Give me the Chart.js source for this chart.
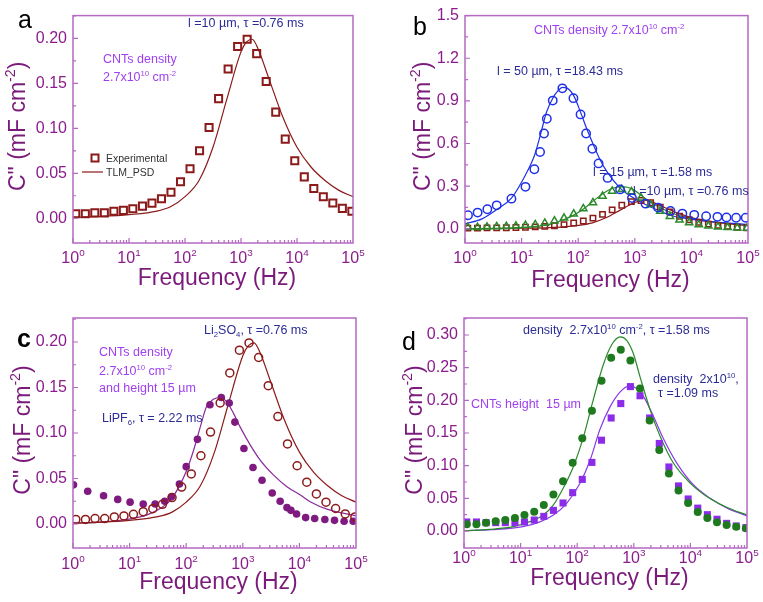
<!DOCTYPE html>
<html>
<head>
<meta charset="utf-8">
<script src="https://cdn.jsdelivr.net/npm/chart.js@4.4.0/dist/chart.umd.min.js"></script>
<style>
body { margin: 0; background: #fff; }
#fig { position: relative; width: 763px; height: 602px; }
#fig canvas { position: absolute; }
</style>
</head>
<body>
<div id="fig">
<canvas id="chartA" width="381" height="301" style="left:0;top:0"></canvas>
<canvas id="chartB" width="382" height="301" style="left:381px;top:0"></canvas>
<canvas id="chartC" width="381" height="301" style="left:0;top:301px"></canvas>
<canvas id="chartD" width="382" height="301" style="left:381px;top:301px"></canvas>
</div>
<script>
// Frequências (Hz) das medidas principais
const freqGrid = [1.12, 1.66, 2.45, 3.63, 5.37, 7.94, 11.7, 17.4, 25.7, 38.0, 56.2, 83.2, 123, 182, 269,
                  398, 589, 871, 1288, 1905, 2818, 4169, 6166, 9120, 13490, 19950, 29510, 43650, 64570, 95500];

// l = 10 um, Li2SO4 (painéis a, b, c)
const expt10um = [0.005, 0.005, 0.006, 0.006, 0.0077, 0.0088, 0.0106, 0.0135, 0.0168, 0.0216, 0.029, 0.0406,
                  0.055, 0.075, 0.101, 0.133, 0.166, 0.191, 0.199, 0.183, 0.152, 0.118, 0.088, 0.064, 0.046,
                  0.033, 0.024, 0.017, 0.011, 0.0077];
const fitFreq10um = [1, 3.16, 10, 31.6, 56.2, 100, 178, 316, 562, 1000, 1259, 1585, 1995, 3162, 5623,
                     10000, 17780, 31620, 56230, 100000];
const fit10um = [0.001, 0.002, 0.004, 0.008, 0.013, 0.024, 0.042, 0.079, 0.133, 0.185, 0.196, 0.199, 0.189,
                 0.155, 0.112, 0.079, 0.057, 0.042, 0.031, 0.024];

// l = 50 um (painel b)
const freq50um = [1.13, 1.67, 2.48, 3.63, 6.61, 11.7, 16.8, 21.2, 24.9, 27.9, 35.5, 52.5, 82.4, 110, 138,
                  178, 229, 331, 550, 891, 1549, 2570, 4266, 6918, 11220, 18200, 28840, 41690, 61660, 91200];
const expt50um = [0.095, 0.114, 0.137, 0.165, 0.212, 0.295, 0.419, 0.540, 0.670, 0.774, 0.902, 0.988, 0.919,
                  0.805, 0.670, 0.563, 0.460, 0.358, 0.277, 0.216, 0.177, 0.149, 0.126, 0.107, 0.098, 0.088,
                  0.084, 0.080, 0.078, 0.078];
const fitFreq50um = [1, 2.0, 3.63, 6.61, 11.7, 17.0, 21.4, 27.5, 36.3, 43.7, 52.5, 63.1, 83.2, 107, 141,
                     186, 245, 324, 550, 955, 1622, 2818, 4898, 10960, 24550, 100000];
const fit50um = [0.035, 0.07, 0.135, 0.216, 0.379, 0.519, 0.658, 0.82, 0.926, 0.97, 0.995, 0.99, 0.937,
                 0.833, 0.705, 0.59, 0.484, 0.40, 0.286, 0.216, 0.167, 0.123, 0.088, 0.065, 0.049, 0.030];

// l = 15 um, densidade 2.7e10 (painéis b, d)
const expt15um = [0.0102, 0.0102, 0.0128, 0.0148, 0.0168, 0.0199, 0.0245, 0.0296, 0.0398, 0.056, 0.076,
                  0.1046, 0.142, 0.184, 0.230, 0.265, 0.2776, 0.261, 0.218, 0.169, 0.124, 0.088, 0.062,
                  0.043, 0.029, 0.020, 0.0133, 0.0092, 0.0066, 0.0041];
const fitFreq15um = [1, 2.82, 7.41, 14.5, 25.1, 38.0, 56.2, 85.1, 129, 191, 288, 407, 575, 741, 977, 1288,
                     1950, 2951, 5012, 10000, 19500, 44670, 100000];
const fit15um = [0.0005, 0.0025, 0.0066, 0.0143, 0.0245, 0.040, 0.065, 0.098, 0.144, 0.20, 0.254, 0.285,
                 0.297, 0.292, 0.272, 0.236, 0.185, 0.144, 0.104, 0.073, 0.053, 0.036, 0.0245];

// LiPF6 (painel c)
const freqLiPF6 = [1.02, 1.82, 3.47, 6.17, 10.2, 17.4, 28.2, 41.7, 55.0, 75.9, 100, 158, 263, 417, 575, 724,
                   1047, 1514, 2188, 3311, 4571, 6026, 7079, 8913, 12880, 18620, 28180, 41690, 61660, 89130];
const exptLiPF6 = [0.043, 0.036, 0.031, 0.027, 0.024, 0.022, 0.022, 0.025, 0.030, 0.044, 0.063, 0.093, 0.131,
                   0.139, 0.133, 0.112, 0.083, 0.062, 0.048, 0.034, 0.025, 0.018, 0.015, 0.011, 0.007, 0.006,
                   0.005, 0.004, 0.003, 0.003];
const fitFreqLiPF6 = [1, 2.29, 8.91, 20.4, 34.7, 52.5, 77.6, 102, 135, 178, 229, 302, 398, 525, 692, 891,
                      1349, 2042, 3467, 6026, 10230, 15490, 31620, 100000];
const fitLiPF6 = [0.001, 0.0015, 0.005, 0.01, 0.017, 0.026, 0.043, 0.059, 0.081, 0.107, 0.129, 0.137, 0.139,
                  0.134, 0.121, 0.107, 0.087, 0.070, 0.054, 0.041, 0.032, 0.0245, 0.016, 0.009];

// densidade 2e10 (painel d)
const expt2e10 = [0.0138, 0.0138, 0.0128, 0.0128, 0.0128, 0.0128, 0.0138, 0.0168, 0.0224, 0.0316, 0.0429,
                  0.0587, 0.079, 0.105, 0.139, 0.173, 0.195, 0.221, 0.207, 0.173, 0.134, 0.098, 0.069, 0.049,
                  0.035, 0.025, 0.018, 0.0117, 0.0077, 0.0051];
const fitFreq2e10 = [1, 3.16, 11.0, 21.9, 38.0, 64.6, 112, 170, 251, 380, 575, 851, 1122, 1479, 2239, 3311,
                     5754, 11480, 22390, 44670, 100000];
const fit2e10 = [0.0005, 0.002, 0.0066, 0.014, 0.0245, 0.042, 0.073, 0.109, 0.155, 0.19, 0.213, 0.222, 0.218,
                 0.206, 0.175, 0.142, 0.104, 0.070, 0.050, 0.035, 0.023];

// Eixos
const xTicks = [1, 10, 100, 1000, 10000, 100000];
const xTickLabels = ['10^{0}', '10^{1}', '10^{2}', '10^{3}', '10^{4}', '10^{5}'];
const yTicksSmall = [0, 0.05, 0.10, 0.15, 0.20];
const yLabelsSmall = ['0.00', '0.05', '0.10', '0.15', '0.20'];
const yTicksB = [0, 0.3, 0.6, 0.9, 1.2, 1.5];
const yLabelsB = ['0.0', '0.3', '0.6', '0.9', '1.2', '1.5'];
const yTicksD = [0, 0.05, 0.10, 0.15, 0.20, 0.25, 0.30];
const yLabelsD = ['0.00', '0.05', '0.10', '0.15', '0.20', '0.25', '0.30'];

const FONT = '"Liberation Sans", Arial, sans-serif';
const AXIS = '#b46ac2';
const TICK_TXT = '#8b1c8c';
const TITLE_TXT = '#7a1a7a';
const NAVY = '#2c2c98';
const VIOLET = '#a040f0';
Chart.defaults.font.family = FONT;

function pts(xs, ys) {
    return xs.map((x, i) => ({ x: x, y: ys[i] }));
}

function markers(xs, ys, style, color, radius, filled, lw) {
    return {
        data: pts(xs, ys),
        showLine: false,
        pointStyle: style,
        pointRadius: radius,
        pointBorderColor: color,
        pointBackgroundColor: filled ? color : 'rgba(0,0,0,0)',
        pointBorderWidth: filled ? 0 : (lw || 1.5)
    };
}

function curve(xs, ys, color) {
    return {
        data: pts(xs, ys),
        showLine: true,
        borderColor: color,
        borderWidth: 1.2,
        pointRadius: 0,
        cubicInterpolationMode: 'monotone'
    };
}

// Texto com ^{sup} e _{sub}
function parseRich(str) {
    const parts = [];
    const re = /([\^_])\{([^}]*)\}/g;
    let last = 0, m;
    while ((m = re.exec(str)) !== null) {
        if (m.index > last) parts.push({ t: str.slice(last, m.index), k: '' });
        parts.push({ t: m[2], k: m[1] });
        last = re.lastIndex;
    }
    if (last < str.length) parts.push({ t: str.slice(last), k: '' });
    return parts;
}

function drawRich(ctx, str, x, y, size, color, align, bold) {
    const parts = parseRich(str);
    const w = bold ? 'bold ' : '';
    const fontFor = k => w + (k ? size * 0.62 : size) + 'px ' + FONT;
    let total = 0;
    parts.forEach(p => { ctx.font = fontFor(p.k); p.w = ctx.measureText(p.t).width; total += p.w; });
    let cx = align === 'center' ? x - total / 2 : (align === 'right' ? x - total : x);
    ctx.fillStyle = color;
    ctx.textAlign = 'left';
    ctx.textBaseline = 'alphabetic';
    parts.forEach(p => {
        ctx.font = fontFor(p.k);
        const dy = p.k === '^' ? -size * 0.42 : (p.k === '_' ? size * 0.22 : 0);
        ctx.fillText(p.t, cx, y + dy);
        cx += p.w;
    });
}

function makeDecor(cfg) {
    return {
        id: 'decor',
        afterDraw(chart) {
            const ctx = chart.ctx;
            const a = chart.chartArea;
            const xs = chart.scales.x, ys = chart.scales.y;
            ctx.save();
            // moldura
            ctx.strokeStyle = AXIS;
            ctx.lineWidth = 1.5;
            ctx.strokeRect(a.left, a.top, a.right - a.left, a.bottom - a.top);
            // ticks para dentro
            ctx.lineWidth = 1.2;
            ctx.beginPath();
            for (let d = 0; d < 5; d++) {
                for (let k = 1; k < 10; k++) {
                    const px = xs.getPixelForValue(k * Math.pow(10, d));
                    const len = k === 1 ? 5 : 3;
                    ctx.moveTo(px, a.bottom);
                    ctx.lineTo(px, a.bottom - len);
                }
            }
            const yt = cfg.yTicks;
            const step = yt[1] - yt[0];
            const minors = [];
            for (let i = 0; i < yt.length - 1; i++) minors.push(yt[i] + step / 2);
            if (yt[yt.length - 1] + step / 2 <= cfg.yMax) minors.push(yt[yt.length - 1] + step / 2);
            yt.forEach(v => {
                const py = ys.getPixelForValue(v);
                ctx.moveTo(a.left, py); ctx.lineTo(a.left + 5, py);
            });
            minors.forEach(v => {
                const py = ys.getPixelForValue(v);
                ctx.moveTo(a.left, py); ctx.lineTo(a.left + 3, py);
            });
            ctx.stroke();
            // rótulos do eixo x
            xTicks.forEach((v, i) => {
                drawRich(ctx, xTickLabels[i], xs.getPixelForValue(v), cfg.xLabelY, 16, TICK_TXT, 'center');
            });
            // títulos dos eixos
            drawRich(ctx, 'Frequency (Hz)', (a.left + a.right) / 2 + 4, cfg.xTitleY, 23, TITLE_TXT, 'center');
            ctx.save();
            ctx.translate(cfg.yTitleX, (a.top + a.bottom) / 2 - 3);
            ctx.rotate(-Math.PI / 2);
            drawRich(ctx, 'C" (mF cm^{-2})', 0, 0, 23, TITLE_TXT, 'center');
            ctx.restore();
            // letra do painel
            drawRich(ctx, cfg.letter[0], cfg.letter[1], cfg.letter[2], 25, '#000', 'left', cfg.letter[3]);
            // anotações
            cfg.notes.forEach(n => drawRich(ctx, n[0], n[1], n[2], 12.5, n[3], 'left'));
            if (cfg.legend) cfg.legend(ctx);
            ctx.restore();
        }
    };
}

function makeChart(id, cfg, datasets) {
    const canvas = document.getElementById(id);
    const W = canvas.width, H = canvas.height;
    const p = cfg.plot;
    return new Chart(canvas, {
        type: 'scatter',
        data: { datasets: datasets },
        options: {
            responsive: false,
            animation: false,
            events: [],
            layout: { padding: { left: 0, right: W - p.r, top: p.t, bottom: 0 } },
            plugins: { legend: { display: false }, tooltip: { enabled: false } },
            scales: {
                x: {
                    type: 'logarithmic',
                    min: 1,
                    max: 100000,
                    grid: { display: false, drawTicks: false },
                    border: { display: false },
                    ticks: { display: false },
                    afterBuildTicks: s => { s.ticks = xTicks.map(v => ({ value: v })); },
                    afterFit: s => { s.height = H - p.b; }
                },
                y: {
                    min: cfg.yMin,
                    max: cfg.yMax,
                    grid: { display: false, drawTicks: false },
                    border: { display: false },
                    ticks: {
                        color: TICK_TXT,
                        font: { size: 16 },
                        padding: 6,
                        callback: (v, i) => cfg.yLabels[i]
                    },
                    afterBuildTicks: s => { s.ticks = cfg.yTicks.map(v => ({ value: v })); },
                    afterFit: s => { s.width = p.l; }
                }
            }
        },
        plugins: [makeDecor(cfg)]
    });
}

const BROWN = '#8b1a1a';

// Painel a
makeChart('chartA', {
    plot: { l: 73, r: 353, t: 13, b: 243 },
    yMin: -0.0275, yMax: 0.2253, yTicks: yTicksSmall, yLabels: yLabelsSmall,
    yTitleX: 25, xLabelY: 263, xTitleY: 285,
    letter: ['a', 18, 28, false],
    notes: [
        ['l =10 \u00b5m, \u03c4 =0.76 ms', 188, 27, NAVY],
        ['CNTs density', 103, 63, VIOLET],
        ['2.7x10^{10} cm^{-2}', 103, 81, VIOLET]
    ],
    legend: ctx => {
        ctx.strokeStyle = BROWN;
        ctx.lineWidth = 2;
        ctx.strokeRect(91.5, 154.5, 7, 7);
        ctx.lineWidth = 1.2;
        ctx.beginPath();
        ctx.moveTo(82, 172); ctx.lineTo(103, 172);
        ctx.stroke();
        drawRich(ctx, 'Experimental', 106, 162, 10.5, '#333', 'left');
        drawRich(ctx, 'TLM_PSD', 106, 176, 10.5, '#333', 'left');
    }
}, [
    markers(freqGrid, expt10um, 'rect', BROWN, 5, false, 2),
    curve(fitFreq10um, fit10um, BROWN)
]);

// Painel b
makeChart('chartB', {
    plot: { l: 84, r: 367, t: 13, b: 243 },
    yMin: -0.1, yMax: 1.5, yTicks: yTicksB, yLabels: yLabelsB,
    yTitleX: 49, xLabelY: 263, xTitleY: 287,
    letter: ['b', 32, 35, false],
    notes: [
        ['CNTs density 2.7x10^{10} cm^{-2}', 153, 34, VIOLET],
        ['l = 50 \u00b5m, \u03c4 =18.43 ms', 116, 75, NAVY],
        ['l = 15 \u00b5m, \u03c4 =1.58 ms', 212, 176, NAVY],
        ['l =10 \u00b5m, \u03c4 =0.76 ms', 252, 195, NAVY]
    ]
}, [
    markers(freq50um, expt50um, 'circle', '#1e30e8', 4.2, false, 1.5),
    markers(freqGrid, expt15um, 'triangle', '#2a8a2a', 4.2, false, 1.5),
    markers(freqGrid, expt10um, 'rect', BROWN, 3.8, false, 1.5),
    curve(fitFreq50um, fit50um, '#1e30e8'),
    curve(fitFreq15um, fit15um, '#2a8a2a'),
    curve(fitFreq10um, fit10um, BROWN)
]);

// Painel c
makeChart('chartC', {
    plot: { l: 73, r: 356, t: 17, b: 247 },
    yMin: -0.0264, yMax: 0.2264, yTicks: yTicksSmall, yLabels: yLabelsSmall,
    yTitleX: 30, xLabelY: 268, xTitleY: 288,
    letter: ['c', 17, 46, true],
    notes: [
        ['Li_{2}SO_{4}, \u03c4 =0.76 ms', 204, 33, NAVY],
        ['CNTs density', 99, 55, VIOLET],
        ['2.7x10^{10} cm^{-2}', 99, 74, VIOLET],
        ['and height 15 \u00b5m', 99, 91, VIOLET],
        ['LiPF_{6}, \u03c4 = 2.22 ms', 102, 121, NAVY]
    ]
}, [
    markers(freqGrid, expt10um, 'circle', BROWN, 4, false, 1.5),
    markers(freqLiPF6, exptLiPF6, 'circle', '#7e1a80', 3.8, true),
    curve(fitFreq10um, fit10um, BROWN),
    curve(fitFreqLiPF6, fitLiPF6, '#8a2a9a')
]);

// Painel d
makeChart('chartD', {
    plot: { l: 83, r: 366, t: 17, b: 247 },
    yMin: -0.026, yMax: 0.326, yTicks: yTicksD, yLabels: yLabelsD,
    yTitleX: 41, xLabelY: 262, xTitleY: 284,
    letter: ['d', 21, 49, false],
    notes: [
        ['density  2.7x10^{10} cm^{-2}, \u03c4 =1.58 ms', 142, 33, NAVY],
        ['density  2x10^{10},', 272, 82, NAVY],
        ['\u03c4 =1.09 ms', 277, 96, NAVY],
        ['CNTs height  15 \u00b5m', 90, 107, VIOLET]
    ]
}, [
    markers(freqGrid, expt15um, 'circle', '#1f7a1f', 4, true),
    markers(freqGrid, expt2e10, 'rect', '#8a2ce8', 5, true),
    curve(fitFreq15um, fit15um, '#2a8a2a'),
    curve(fitFreq2e10, fit2e10, '#8a3ae8')
]);
</script>
</body>
</html>
